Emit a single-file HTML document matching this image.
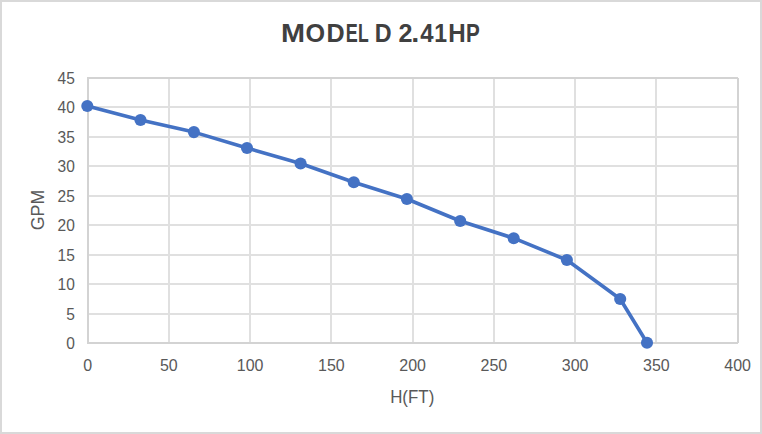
<!DOCTYPE html>
<html><head><meta charset="utf-8"><style>
html,body{margin:0;padding:0;background:#fff;}
body{width:762px;height:434px;overflow:hidden;position:relative;}
svg{position:absolute;left:0;top:0;}
text{font-family:"Liberation Sans",sans-serif;}
</style></head><body>
<svg width="762" height="434" viewBox="0 0 762 434">
<rect x="1" y="1" width="760" height="432" fill="#fff" stroke="#d9d9d9" stroke-width="2"/>
<g fill="#e0e0e0" shape-rendering="crispEdges"><rect x="168" y="77" width="2" height="267"/><rect x="249" y="77" width="2" height="267"/><rect x="330" y="77" width="2" height="267"/><rect x="412" y="77" width="2" height="267"/><rect x="493" y="77" width="2" height="267"/><rect x="574" y="77" width="2" height="267"/><rect x="655" y="77" width="2" height="267"/><rect x="87" y="106" width="652" height="2"/><rect x="87" y="136" width="652" height="2"/><rect x="87" y="165" width="652" height="2"/><rect x="87" y="195" width="652" height="2"/><rect x="87" y="224" width="652" height="2"/><rect x="87" y="254" width="652" height="2"/><rect x="87" y="283" width="652" height="2"/><rect x="87" y="313" width="652" height="2"/></g>
<g fill="#d3d3d3" shape-rendering="crispEdges"><rect x="87" y="77" width="2" height="267"/><rect x="737" y="78" width="2" height="265"/><rect x="87" y="77" width="651" height="2"/><rect x="87" y="342" width="651" height="2"/></g>
<g font-size="25.8" font-weight="bold" fill="#404040"><text transform="translate(281.06,41.7) scale(1.12,1)">M</text><text transform="translate(305.47,41.7) scale(0.9762,1)">O</text><text transform="translate(326.42,41.7) scale(0.9733,1)">D</text><text transform="translate(345.8,41.7) scale(0.6978,1)">E</text><text transform="translate(358.07,41.7) scale(0.68,1)">L</text><text transform="translate(374.64,41.7) scale(0.9038,1)">D</text><text transform="translate(398.43,41.7) scale(0.9741,1)">2</text><text transform="translate(411.25,41.7) scale(1.12,1)">.</text><text transform="translate(420.14,41.7) scale(0.9262,1)">4</text><text transform="translate(434.15,41.7) scale(0.8913,1)">1</text><text transform="translate(448.18,41.7) scale(0.9362,1)">H</text><text transform="translate(465.92,41.7) scale(0.8013,1)">P</text></g>
<g font-size="15.7" fill="#595959" text-anchor="end"><text transform="translate(74.8,84.40) scale(0.99,1)">45</text><text transform="translate(74.8,113.40) scale(0.99,1)">40</text><text transform="translate(74.8,143.40) scale(0.99,1)">35</text><text transform="translate(74.8,172.40) scale(0.99,1)">30</text><text transform="translate(74.8,202.40) scale(0.99,1)">25</text><text transform="translate(74.8,231.40) scale(0.99,1)">20</text><text transform="translate(74.8,261.40) scale(0.99,1)">15</text><text transform="translate(74.8,290.40) scale(0.99,1)">10</text><text transform="translate(74.8,320.40) scale(0.99,1)">5</text><text transform="translate(74.8,349.40) scale(0.99,1)">0</text></g>
<g font-size="15.7" fill="#595959" text-anchor="middle"><text transform="translate(87.60,371.1) scale(1.02,1)">0</text><text transform="translate(168.85,371.1) scale(1.02,1)">50</text><text transform="translate(250.10,371.1) scale(1.02,1)">100</text><text transform="translate(331.35,371.1) scale(1.02,1)">150</text><text transform="translate(412.60,371.1) scale(1.02,1)">200</text><text transform="translate(493.85,371.1) scale(1.02,1)">250</text><text transform="translate(575.10,371.1) scale(1.02,1)">300</text><text transform="translate(656.35,371.1) scale(1.02,1)">350</text><text transform="translate(737.60,371.1) scale(1.02,1)">400</text></g>
<text transform="translate(412.2,402.8) scale(0.95,1)" text-anchor="middle" font-size="17.8" fill="#595959">H(FT)</text>
<text transform="translate(44.2,210) rotate(-90)" x="0" y="0" text-anchor="middle" font-size="17.8" fill="#595959">GPM</text>
<polyline points="87.3,106 140.5,120 193.9,132.1 247,148 300.6,163.5 353.8,182.2 406.9,199 460.2,221 513.7,238.2 566.9,260 620.2,299 647,342.7" fill="none" stroke="#4472c4" stroke-width="3.6" stroke-linejoin="round"/>
<g fill="#4472c4"><circle cx="87.3" cy="106" r="6.05"/><circle cx="140.5" cy="120" r="6.05"/><circle cx="193.9" cy="132.1" r="6.05"/><circle cx="247" cy="148" r="6.05"/><circle cx="300.6" cy="163.5" r="6.05"/><circle cx="353.8" cy="182.2" r="6.05"/><circle cx="406.9" cy="199" r="6.05"/><circle cx="460.2" cy="221" r="6.05"/><circle cx="513.7" cy="238.2" r="6.05"/><circle cx="566.9" cy="260" r="6.05"/><circle cx="620.2" cy="299" r="6.05"/><circle cx="647" cy="342.7" r="6.05"/></g>
</svg>
</body></html>
